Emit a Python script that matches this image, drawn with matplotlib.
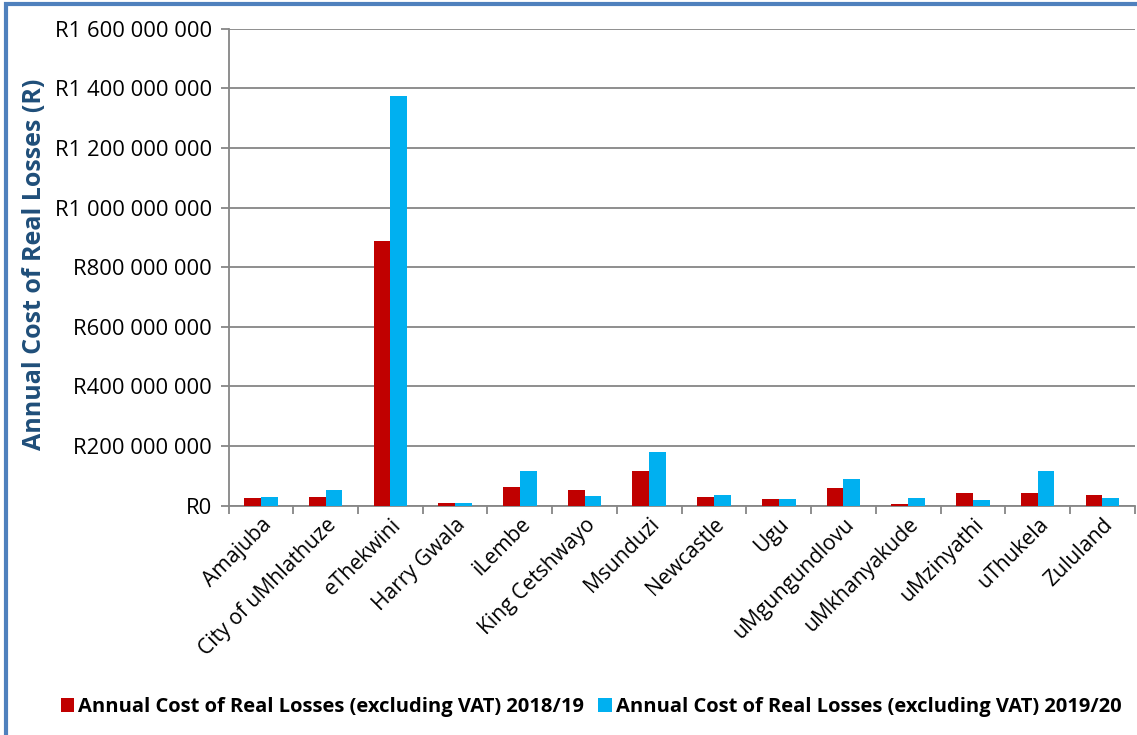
import numpy as np
import matplotlib.pyplot as plt
from matplotlib.patches import Rectangle
from matplotlib.ticker import FuncFormatter, FixedLocator

districts = ['Amajuba', 'City of uMhlathuze', 'eThekwini', 'Harry Gwala', 'iLembe',
             'King Cetshwayo', 'Msunduzi', 'Newcastle', 'Ugu', 'uMgungundlovu',
             'uMkhanyakude', 'uMzinyathi', 'uThukela', 'Zululand']
cost_2018 = [27e6, 29e6, 888e6, 8e6, 62e6, 54e6, 118e6, 30e6, 22e6, 60e6, 7e6, 42e6, 44e6, 37e6]
cost_2019 = [30e6, 51e6, 1375e6, 10e6, 115e6, 31e6, 179e6, 37e6, 22e6, 90e6, 26e6, 19e6, 118e6, 27e6]
labels = ['Annual Cost of Real Losses (excluding VAT) 2018/19',
          'Annual Cost of Real Losses (excluding VAT) 2019/20']

plt.rcParams['font.family'] = ['Open Sans', 'DejaVu Sans']

fig = plt.figure(figsize=(11.37, 7.35), dpi=100)
ax = fig.add_axes([0.201, 0.312, 0.797, 0.649])

x = np.arange(len(districts))
w = 0.26
ax.bar(x - w / 2, cost_2018, w, color='#C00000', label=labels[0], zorder=3)
ax.bar(x + w / 2, cost_2019, w, color='#00B0F0', label=labels[1], zorder=3)

ax.set_xlim(-0.5, len(districts) - 0.5)
ax.set_ylim(0, 1.6e9)
ax.yaxis.set_major_locator(FixedLocator(np.arange(0, 1.61e9, 2e8)))


def rand_fmt(v, pos):
    return 'R' + f'{int(round(v)):,}'.replace(',', ' ')


ax.yaxis.set_major_formatter(FuncFormatter(rand_fmt))
ax.grid(axis='y', color='#868686', linewidth=1.3, zorder=0)

ax.set_xticks(x)
ax.set_xticklabels(districts, rotation=45, ha='right', rotation_mode='anchor', fontsize=15.2)
ax.tick_params(axis='x', length=0, pad=6)
ax.set_xticks(np.arange(-0.5, len(districts), 1), minor=True)
ax.tick_params(axis='x', which='minor', length=6, color='#868686', width=1.3)
ax.tick_params(axis='y', labelsize=15.8, length=6, color='#868686', width=1.3, pad=6)

for s in ['top', 'right']:
    ax.spines[s].set_visible(False)
for s in ['left', 'bottom']:
    ax.spines[s].set_color('#868686')
    ax.spines[s].set_linewidth(1.3)

ax.set_ylabel('Annual Cost of Real Losses (R)', fontsize=18, fontweight='bold',
              color='#1F4E79')
ax.yaxis.set_label_coords(-0.2, 0.505)

fig.legend(loc='lower center', bbox_to_anchor=(0.52, 0.0), ncol=2, frameon=False,
           prop={'size': 14.5, 'weight': 'bold'}, handlelength=0.65, handleheight=0.65,
           handletextpad=0.2, columnspacing=0.7)

fig.patches.append(Rectangle((0.005, -0.1), 1.2, 1.094, transform=fig.transFigure,
                             fill=False, edgecolor='#4F81BD', linewidth=3))

fig.savefig('out.png', dpi=100)
